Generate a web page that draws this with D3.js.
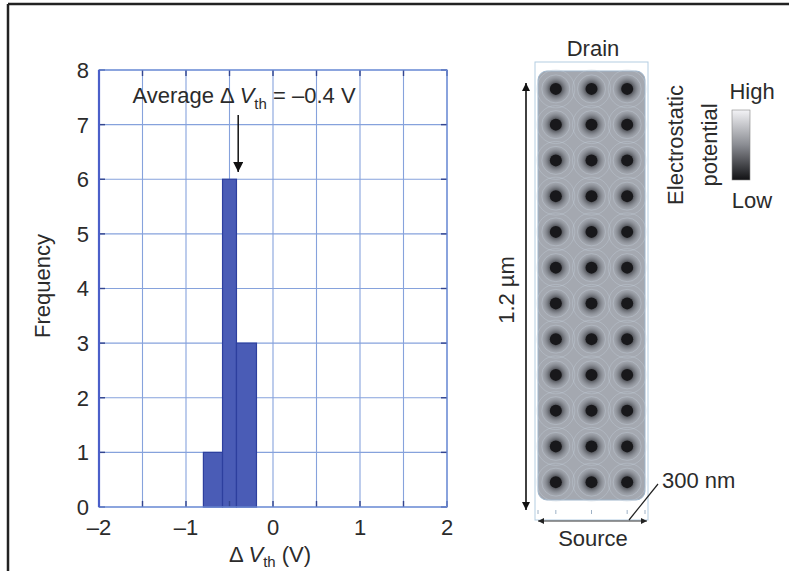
<!DOCTYPE html>
<html>
<head>
<meta charset="utf-8">
<script src="https://cdn.jsdelivr.net/npm/d3@7"></script>
<style>
  body { margin: 0; background: #fff; }
  svg { display: block; font-family: "Liberation Sans", Arial, sans-serif; }
</style>
</head>
<body>
<div id="chart"></div>
<script>
// histogram bins (Delta Vth, V) and counts
var binStart = [-0.8, -0.58, -0.42];
var binEnd = [-0.58, -0.42, -0.19];
var counts = [1, 6, 3];
var xTicks = [-2, -1, 0, 1, 2];
var xGrid = [-2, -1.5, -1, -0.5, 0, 0.5, 1, 1.5, 2];
var yTicks = [0, 1, 2, 3, 4, 5, 6, 7, 8];
var averageDv = -0.4;

// dopant positions in the channel (nm), 300 nm x 1200 nm
var dopantX = [50, 150, 250];
var dopantY = [50, 150, 250, 350, 450, 550, 650, 750, 850, 950, 1050, 1150];

var W = 789, H = 571;
var textColor = "#2b2b2b";
var fs = "22px", fsSub = "15px";

var svg = d3.select("#chart").append("svg")
    .attr("width", W)
    .attr("height", H);

var defs = svg.append("defs");

// outer frame (top and left edges visible)
svg.append("line")
    .attr("x1", 8).attr("y1", 4).attr("x2", W).attr("y2", 4)
    .attr("stroke", "#222").attr("stroke-width", 2.5);
svg.append("line")
    .attr("x1", 8).attr("y1", 4).attr("x2", 8).attr("y2", H)
    .attr("stroke", "#222").attr("stroke-width", 2.5);

// ---------- histogram ----------
var x = d3.scaleLinear().domain([-2, 2]).range([99, 447]);
var y = d3.scaleLinear().domain([0, 8]).range([507, 70]);

var grid = svg.append("g");
grid.selectAll(".vg")
    .data(xGrid)
    .enter().append("line")
    .attr("x1", function (d) { return x(d); })
    .attr("x2", function (d) { return x(d); })
    .attr("y1", y(0)).attr("y2", y(8))
    .attr("stroke", "#86a2dc").attr("stroke-width", 1.1);
grid.selectAll(".hg")
    .data(yTicks)
    .enter().append("line")
    .attr("x1", x(-2)).attr("x2", x(2))
    .attr("y1", function (d) { return y(d); })
    .attr("y2", function (d) { return y(d); })
    .attr("stroke", "#86a2dc").attr("stroke-width", 1.1);

// bars
svg.selectAll(".bar")
    .data(counts)
    .enter().append("rect")
    .attr("x", function (d, i) { return x(binStart[i]); })
    .attr("width", function (d, i) { return x(binEnd[i]) - x(binStart[i]); })
    .attr("y", function (d) { return y(d); })
    .attr("height", function (d) { return y(0) - y(d); })
    .attr("fill", "#4a5cb6")
    .attr("stroke", "#2d3f9e")
    .attr("stroke-width", 1.2);

// inner ticks
var tickLen = 6, tickColor = "#33458f";
var ticks = svg.append("g").attr("stroke", tickColor).attr("stroke-width", 1.4);
xGrid.forEach(function (d) {
    ticks.append("line").attr("x1", x(d)).attr("x2", x(d)).attr("y1", y(0)).attr("y2", y(0) - tickLen);
    ticks.append("line").attr("x1", x(d)).attr("x2", x(d)).attr("y1", y(8)).attr("y2", y(8) + tickLen);
});
yTicks.forEach(function (d) {
    ticks.append("line").attr("x1", x(-2)).attr("x2", x(-2) + tickLen).attr("y1", y(d)).attr("y2", y(d));
    ticks.append("line").attr("x1", x(2)).attr("x2", x(2) - tickLen).attr("y1", y(d)).attr("y2", y(d));
});

// plot frame
svg.append("rect")
    .attr("x", x(-2)).attr("y", y(8))
    .attr("width", x(2) - x(-2)).attr("height", y(0) - y(8))
    .attr("fill", "none").attr("stroke", "#6f8ed6").attr("stroke-width", 1.3);
svg.append("line")
    .attr("x1", x(-2)).attr("x2", x(-2)).attr("y1", y(0)).attr("y2", y(8))
    .attr("stroke", "#4b5fc9").attr("stroke-width", 2.2);

// tick labels
svg.selectAll(".xl")
    .data(xTicks)
    .enter().append("text")
    .attr("x", function (d) { return x(d); })
    .attr("y", 535)
    .attr("text-anchor", "middle")
    .style("font-size", fs)
    .attr("fill", textColor)
    .text(function (d) { return d < 0 ? "\u2013" + Math.abs(d) : d; });

svg.selectAll(".yl")
    .data(yTicks)
    .enter().append("text")
    .attr("x", 89)
    .attr("y", function (d) { return y(d); })
    .attr("dy", "0.36em")
    .attr("text-anchor", "end")
    .style("font-size", fs)
    .attr("fill", textColor)
    .text(function (d) { return d; });

// axis titles
svg.append("text")
    .attr("transform", "translate(42,286) rotate(-90)")
    .attr("text-anchor", "middle")
    .attr("dy", "0.36em")
    .style("font-size", fs)
    .attr("fill", textColor)
    .text("Frequency");

var xt = svg.append("text")
    .attr("x", 270).attr("y", 562)
    .attr("text-anchor", "middle")
    .style("font-size", fs)
    .attr("fill", textColor);
xt.append("tspan").text("\u0394 ");
xt.append("tspan").style("font-style", "italic").text("V");
xt.append("tspan").attr("dy", 5).style("font-size", fsSub).text("th");
xt.append("tspan").attr("dy", -5).text(" (V)");

// annotation
var an = svg.append("text")
    .attr("x", 244).attr("y", 103)
    .attr("text-anchor", "middle")
    .style("font-size", fs)
    .attr("fill", textColor);
an.append("tspan").text("Average \u0394 ");
an.append("tspan").style("font-style", "italic").text("V");
an.append("tspan").attr("dy", 6).style("font-size", fsSub).text("th");
an.append("tspan").attr("dy", -6).text(" = \u2013" + Math.abs(averageDv) + " V");

defs.append("marker")
    .attr("id", "ah")
    .attr("viewBox", "0 0 10 10")
    .attr("refX", 10).attr("refY", 5)
    .attr("markerWidth", 10).attr("markerHeight", 10)
    .attr("markerUnits", "userSpaceOnUse")
    .attr("orient", "auto")
    .append("path").attr("d", "M0,0 L10,5 L0,10 Z").attr("fill", "#111");

svg.append("line")
    .attr("x1", x(averageDv)).attr("x2", x(averageDv))
    .attr("y1", 115).attr("y2", 172)
    .attr("stroke", "#111").attr("stroke-width", 1.5)
    .attr("marker-end", "url(#ah)");

// ---------- potential map ----------
var px = d3.scaleLinear().domain([0, 300]).range([538, 645]);
var py = d3.scaleLinear().domain([0, 1200]).range([71, 500]);

var halo = defs.append("radialGradient").attr("id", "halo");
halo.append("stop").attr("offset", "0%").attr("stop-color", "#202024").attr("stop-opacity", 1);
halo.append("stop").attr("offset", "45%").attr("stop-color", "#4a4c52").attr("stop-opacity", 0.8);
halo.append("stop").attr("offset", "100%").attr("stop-color", "#7f848c").attr("stop-opacity", 0);

var bar = defs.append("linearGradient").attr("id", "cbar")
    .attr("x1", 0).attr("y1", 0).attr("x2", 0).attr("y2", 1);
bar.append("stop").attr("offset", "0%").attr("stop-color", "#f3f3f6");
bar.append("stop").attr("offset", "50%").attr("stop-color", "#8a8c92");
bar.append("stop").attr("offset", "100%").attr("stop-color", "#111114");

svg.append("rect")
    .attr("x", 535).attr("y", 62)
    .attr("width", 113).attr("height", 458)
    .attr("fill", "none").attr("stroke", "#b3cde2").attr("stroke-width", 1);

svg.append("rect")
    .attr("x", px(0)).attr("y", py(0))
    .attr("width", px(300) - px(0)).attr("height", py(1200) - py(0))
    .attr("rx", 9)
    .attr("fill", "#a4a8b0")
    .attr("stroke", "#9fb6cc").attr("stroke-width", 1);

var dots = [];
dopantY.forEach(function (yy) {
    dopantX.forEach(function (xx) { dots.push({ x: xx, y: yy }); });
});

var dg = svg.append("g");
[19, 14].forEach(function (r) {
    dg.selectAll(".ring" + r)
        .data(dots)
        .enter().append("circle")
        .attr("cx", function (d) { return px(d.x); })
        .attr("cy", function (d) { return py(d.y); })
        .attr("r", r)
        .attr("fill", "none")
        .attr("stroke", "#c3cedb").attr("stroke-opacity", 0.45).attr("stroke-width", 0.8);
});
dg.selectAll(".halo")
    .data(dots)
    .enter().append("circle")
    .attr("cx", function (d) { return px(d.x); })
    .attr("cy", function (d) { return py(d.y); })
    .attr("r", 14)
    .attr("fill", "url(#halo)");
dg.selectAll(".core")
    .data(dots)
    .enter().append("circle")
    .attr("cx", function (d) { return px(d.x); })
    .attr("cy", function (d) { return py(d.y); })
    .attr("r", 6)
    .attr("fill", "#18181b");

// 1.2 um arrow
defs.append("marker")
    .attr("id", "ah2")
    .attr("viewBox", "0 0 10 10")
    .attr("refX", 10).attr("refY", 5)
    .attr("markerWidth", 8).attr("markerHeight", 10)
    .attr("markerUnits", "userSpaceOnUse")
    .attr("orient", "auto-start-reverse")
    .append("path").attr("d", "M0,0 L10,5 L0,10 Z").attr("fill", "#111");

svg.append("line")
    .attr("x1", 526).attr("x2", 526).attr("y1", 83).attr("y2", 510)
    .attr("stroke", "#111").attr("stroke-width", 1.6)
    .attr("marker-start", "url(#ah2)").attr("marker-end", "url(#ah2)");

svg.append("text")
    .attr("transform", "translate(506,290) rotate(-90)")
    .attr("text-anchor", "middle")
    .attr("dy", "0.36em")
    .style("font-size", fs)
    .attr("fill", textColor)
    .text("1.2 \u00b5m");

// source width arrow
defs.append("marker")
    .attr("id", "ah3")
    .attr("viewBox", "0 0 10 10")
    .attr("refX", 10).attr("refY", 5)
    .attr("markerWidth", 7).attr("markerHeight", 6)
    .attr("markerUnits", "userSpaceOnUse")
    .attr("orient", "auto-start-reverse")
    .append("path").attr("d", "M0,0 L10,5 L0,10 Z").attr("fill", "#222");

svg.append("line")
    .attr("x1", px(0)).attr("x2", px(300) + 2).attr("y1", 521).attr("y2", 521)
    .attr("stroke", "#333").attr("stroke-width", 1)
    .attr("marker-start", "url(#ah3)").attr("marker-end", "url(#ah3)");

svg.selectAll(".stick")
    .data(dopantX.concat([0, 300]))
    .enter().append("line")
    .attr("x1", function (d) { return px(d); })
    .attr("x2", function (d) { return px(d); })
    .attr("y1", 510).attr("y2", 514)
    .attr("stroke", "#9fb2c6").attr("stroke-width", 1);

svg.append("line")
    .attr("x1", 629).attr("y1", 520).attr("x2", 658).attr("y2", 484)
    .attr("stroke", "#222").attr("stroke-width", 1.2);

svg.append("text")
    .attr("x", 662).attr("y", 480).attr("dy", "0.36em")
    .style("font-size", fs)
    .attr("fill", textColor)
    .text("300 nm");

svg.append("text")
    .attr("x", 593).attr("y", 48).attr("dy", "0.36em")
    .attr("text-anchor", "middle")
    .style("font-size", fs)
    .attr("fill", textColor)
    .text("Drain");

svg.append("text")
    .attr("x", 593).attr("y", 538).attr("dy", "0.36em")
    .attr("text-anchor", "middle")
    .style("font-size", fs)
    .attr("fill", textColor)
    .text("Source");

// colour bar
svg.append("rect")
    .attr("x", 732).attr("y", 110)
    .attr("width", 18).attr("height", 70)
    .attr("fill", "url(#cbar)")
    .attr("stroke", "#888").attr("stroke-width", 0.6);

svg.append("text")
    .attr("x", 752).attr("y", 91).attr("dy", "0.36em")
    .attr("text-anchor", "middle")
    .style("font-size", fs)
    .attr("fill", textColor)
    .text("High");

svg.append("text")
    .attr("x", 752).attr("y", 200).attr("dy", "0.36em")
    .attr("text-anchor", "middle")
    .style("font-size", fs)
    .attr("fill", textColor)
    .text("Low");

svg.append("text")
    .attr("transform", "translate(675,145) rotate(-90)")
    .attr("text-anchor", "middle")
    .attr("dy", "0.36em")
    .style("font-size", fs)
    .attr("fill", textColor)
    .text("Electrostatic");

svg.append("text")
    .attr("transform", "translate(709,145) rotate(-90)")
    .attr("text-anchor", "middle")
    .attr("dy", "0.36em")
    .style("font-size", fs)
    .attr("fill", textColor)
    .text("potential");
</script>
</body>
</html>
